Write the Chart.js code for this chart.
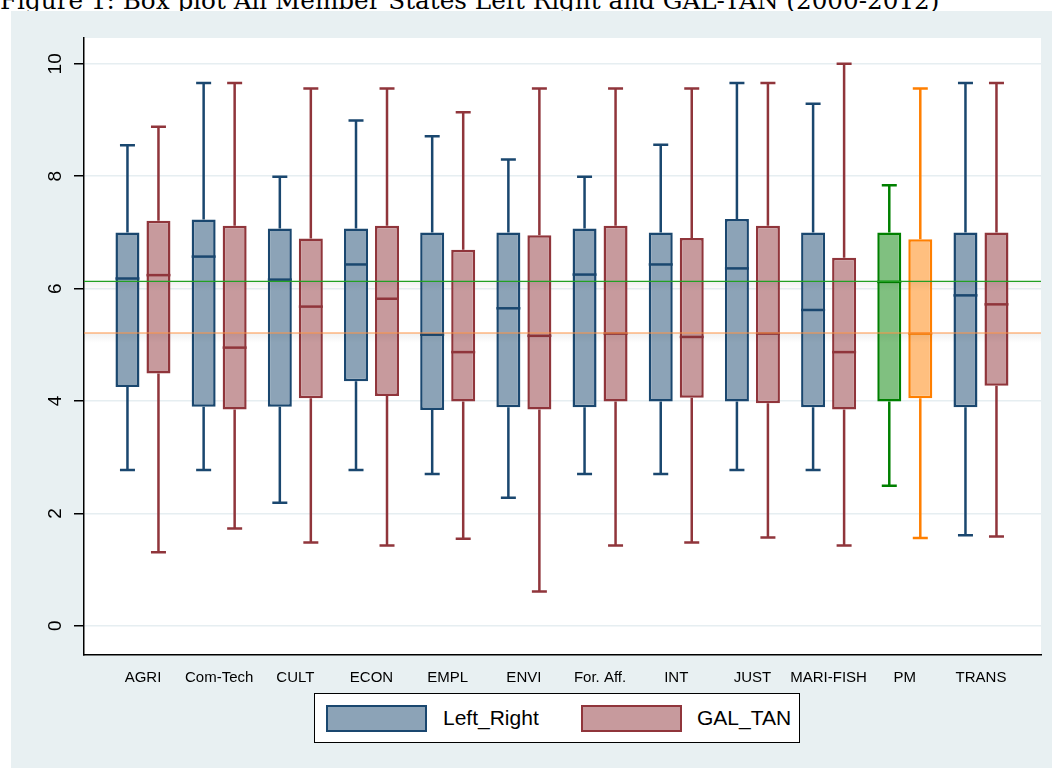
<!DOCTYPE html>
<html>
<head>
<meta charset="utf-8">
<script src="https://cdn.jsdelivr.net/npm/chart.js@4.4.0/dist/chart.umd.min.js"></script>
<style>
body{margin:0;background:#fff;}
#wrap{position:relative;width:1052px;height:768px;overflow:hidden;background:#fff;}
#title{position:absolute;left:0;top:-14px;font-family:"DejaVu Serif",serif;font-size:22px;white-space:nowrap;color:#000;}
#panel{position:absolute;left:11px;top:11px;right:0;bottom:0;background:#e8f0f2;}
#chart{position:absolute;left:0;top:0;}
#legend{position:absolute;left:314px;top:693px;width:484px;height:48px;background:#fff;border:1.5px solid #000;font-family:"Liberation Sans",Arial,sans-serif;font-size:21px;color:#000;}
.sw{position:absolute;top:11px;width:97px;height:23px;border:2px solid;}
.lb{position:absolute;top:12px;}
</style>
</head>
<body>
<div id="wrap">
  <div id="title">Figure 1: Box plot All Member States Left Right and GAL-TAN (2000-2012)</div>
  <div id="panel"></div>
  <canvas id="chart" width="1052" height="768"></canvas>
  <div id="legend">
    <div class="sw" style="left:11px;background:#8ca3b7;border-color:#1a476f"></div>
    <div class="lb" style="left:128px">Left_Right</div>
    <div class="sw" style="left:266px;background:#c79a9d;border-color:#90353b"></div>
    <div class="lb" style="left:382px">GAL_TAN</div>
  </div>
</div>
<script>
// Data
const categories = ['AGRI','Com-Tech','CULT','ECON','EMPL','ENVI','For. Aff.','INT','JUST','MARI-FISH','PM','TRANS'];

const lrMin    = [2.77, 2.77, 2.19, 2.77, 2.70, 2.28, 2.70, 2.70, 2.77, 2.77, 2.49, 1.61];
const lrQ1     = [4.25, 3.90, 3.90, 4.35, 3.84, 3.89, 3.89, 3.99, 3.99, 3.89, 3.99, 3.89];
const lrMedian = [6.18, 6.57, 6.16, 6.43, 5.18, 5.65, 6.25, 6.43, 6.36, 5.62, 6.12, 5.88];
const lrQ3     = [7.00, 7.23, 7.07, 7.07, 7.00, 7.00, 7.07, 7.00, 7.24, 7.00, 7.00, 7.00];
const lrMax    = [8.55, 9.66, 7.99, 8.99, 8.71, 8.30, 7.99, 8.56, 9.66, 9.29, 7.84, 9.66];

const gtMin    = [1.31, 1.73, 1.48, 1.43, 1.55, 0.61, 1.43, 1.48, 1.57, 1.43, 1.56, 1.59];
const gtQ1     = [4.49, 3.85, 4.05, 4.09, 3.99, 3.85, 3.99, 4.06, 3.96, 3.85, 4.05, 4.27];
const gtMedian = [6.24, 4.95, 5.68, 5.82, 4.87, 5.16, 5.20, 5.14, 5.20, 4.87, 5.20, 5.72];
const gtQ3     = [7.21, 7.12, 6.89, 7.12, 6.69, 6.95, 7.12, 6.90, 7.12, 6.55, 6.88, 7.00];
const gtMax    = [8.88, 9.66, 9.56, 9.56, 9.14, 9.56, 9.56, 9.56, 9.66, 10.0, 9.56, 9.66];

// horizontal reference lines (PM medians)
const refLines  = [6.13, 5.21];
const refColors = ['#22a022', '#ff9444'];

// colours
const navy = '#1a476f', navyFill = '#8ca3b7';
const maroon = '#90353b', maroonFill = '#c79a9d';
const green = '#008000', greenFill = '#80c080';
const orange = '#ff7f00', orangeFill = '#ffbf7f';

const lrLine = categories.map(c => c === 'PM' ? green : navy);
const lrFill = categories.map(c => c === 'PM' ? greenFill : navyFill);
const gtLine = categories.map(c => c === 'PM' ? orange : maroon);
const gtFill = categories.map(c => c === 'PM' ? orangeFill : maroonFill);

const stats = [
  {min: lrMin, med: lrMedian, q1: lrQ1, q3: lrQ3, max: lrMax, color: lrLine},
  {min: gtMin, med: gtMedian, q1: gtQ1, q3: gtQ3, max: gtMax, color: gtLine}
];

// fit the cut-off title to its width in the figure
(function(){
  const t = document.getElementById('title');
  const w = t.getBoundingClientRect().width;
  t.style.fontSize = (22 * 940 / w) + 'px';
})();

const boxPlugin = {
  id: 'boxplot',
  beforeDraw(chart){
    const {ctx, chartArea: a} = chart;
    ctx.save();
    ctx.fillStyle = '#fff';
    ctx.fillRect(a.left, a.top, a.right - a.left, a.bottom - a.top);
    ctx.restore();
  },
  beforeDatasetsDraw(chart){
    const ctx = chart.ctx, y = chart.scales.y;
    ctx.save();
    ctx.lineWidth = 2.5;
    stats.forEach((s, d) => {
      chart.getDatasetMeta(d).data.forEach((el, i) => {
        ctx.strokeStyle = s.color[i];
        const lo = y.getPixelForValue(s.min[i]), hi = y.getPixelForValue(s.max[i]);
        ctx.beginPath();
        ctx.moveTo(el.x, y.getPixelForValue(s.q1[i])); ctx.lineTo(el.x, lo);
        ctx.moveTo(el.x, y.getPixelForValue(s.q3[i])); ctx.lineTo(el.x, hi);
        ctx.moveTo(el.x - 7.5, lo); ctx.lineTo(el.x + 7.5, lo);
        ctx.moveTo(el.x - 7.5, hi); ctx.lineTo(el.x + 7.5, hi);
        ctx.stroke();
      });
    });
    ctx.restore();
  },
  afterDatasetsDraw(chart){
    const ctx = chart.ctx, y = chart.scales.y, a = chart.chartArea;
    ctx.save();
    ctx.lineWidth = 2.5;
    stats.forEach((s, d) => {
      chart.getDatasetMeta(d).data.forEach((el, i) => {
        const py = y.getPixelForValue(s.med[i]);
        ctx.strokeStyle = s.color[i];
        ctx.beginPath();
        ctx.moveTo(el.x - el.width / 2, py); ctx.lineTo(el.x + el.width / 2, py);
        ctx.stroke();
      });
    });
    refLines.forEach((v, k) => {
      const py = y.getPixelForValue(v);
      const g = ctx.createLinearGradient(0, py, 0, py + 10);
      g.addColorStop(0, 'rgba(0,0,0,0.06)');
      g.addColorStop(1, 'rgba(0,0,0,0)');
      ctx.fillStyle = g;
      ctx.fillRect(a.left, py, a.right - a.left, 10);
      ctx.strokeStyle = refColors[k];
      ctx.lineWidth = 1.2;
      ctx.beginPath();
      ctx.moveTo(a.left, py); ctx.lineTo(a.right, py);
      ctx.stroke();
    });
    ctx.restore();
  }
};

const font = {family: '"Liberation Sans", Arial, sans-serif'};

new Chart(document.getElementById('chart').getContext('2d'), {
  type: 'bar',
  data: {
    datasets: [
      {
        label: 'Left_Right',
        data: categories.map((c, i) => ({x: i, y: [lrQ1[i], lrQ3[i]]})),
        backgroundColor: lrFill, borderColor: lrLine
      },
      {
        label: 'GAL_TAN',
        data: categories.map((c, i) => ({x: i, y: [gtQ1[i], gtQ3[i]]})),
        backgroundColor: gtFill, borderColor: gtLine
      }
    ]
  },
  options: {
    responsive: false,
    animation: false,
    datasets: {bar: {borderWidth: 2.5, borderSkipped: false, categoryPercentage: 0.814, barPercentage: 0.774}},
    layout: {padding: {left: 34, top: 38, right: 11, bottom: 53}},
    plugins: {legend: {display: false}, tooltip: {enabled: false}},
    scales: {
      x: {
        type: 'linear', min: -0.774, max: 11.788, offset: false,
        grid: {display: false},
        border: {color: '#000', width: 1.5},
        ticks: {
          stepSize: 1, includeBounds: false, autoSkip: false, maxRotation: 0, padding: 6,
          color: '#000', font: {...font, size: 15},
          callback: v => categories[v] ?? ''
        },
        afterFit: s => { s.height = 60; }
      },
      y: {
        min: -0.52, max: 10.46,
        grid: {color: '#e6eef1', lineWidth: 1.5, tickColor: '#000', tickLength: 10, tickWidth: 1.5},
        border: {color: '#000', width: 1.5},
        ticks: {
          stepSize: 2, includeBounds: false, minRotation: 90, maxRotation: 90,
          padding: 8, crossAlign: 'center', color: '#000', font: {...font, size: 19}
        },
        afterFit: s => { s.width = 50; }
      }
    }
  },
  plugins: [boxPlugin]
});
</script>
</body>
</html>
